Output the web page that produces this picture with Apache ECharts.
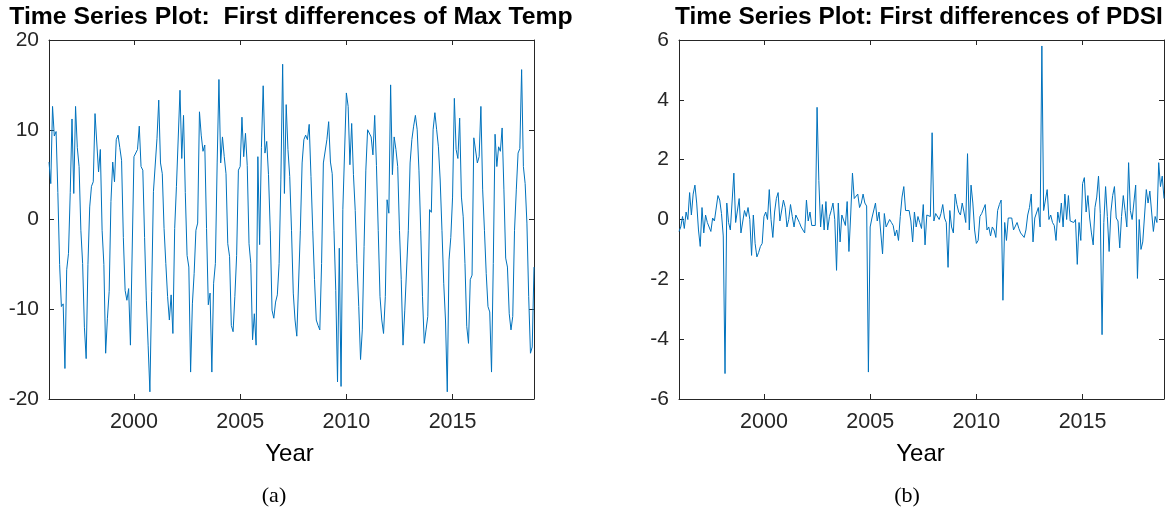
<!DOCTYPE html>
<html><head><meta charset="utf-8">
<script src="https://cdn.jsdelivr.net/npm/echarts@6/dist/echarts.min.js"></script>
<style>html,body{margin:0;padding:0;background:#fff}#c{width:1167px;height:510px}</style>
</head><body><div id="c"></div>
<script>
// ---------- data ----------
const startYear = 1996;              // first month of the differenced series (monthly steps)
const xTickYears = [2000, 2005, 2010, 2015];
const yTicksTemp = [-20, -10, 0, 10, 20];
const yTicksPdsi = [-6, -4, -2, 0, 2, 4, 6];
const titleTemp = 'Time Series Plot:  First differences of Max Temp';
const titlePdsi = 'Time Series Plot: First differences of PDSI';
const xAxisName = 'Year';
const captions = ['(a)', '(b)'];

const maxTempDiff = [
  6.4, 4.0, 12.6, 9.3, 9.8, 3, -5, -9.7, -9.4, -16.6, -5.6, -3.8,
  3, 11.2, 2.9, 12.6, 8, 5.9, -1.2, -4.9, -12, -15.5, -5, 1.4,
  3.7, 4.2, 11.8, 11.8, 5.3, 7.8, -1.2, -5, -14.9, -11, -8, 2,
  6.4, 4.2, 8.9, 9.4, 8, 6.6, -2, -7.9, -9, -7.7, -14, -3.4,
  7, 7.2, 7.8, 10.4, 5.9, 5.5, -2, -9, -14, -19.2, -8, 3.1,
  3.3, 9, 13.3, 6.3, 5.1, -1, -4.9, -8.6, -11.2, -8.4, -12.7, -1,
  3.7, 3.5, 14.4, 6.8, 11.6, 3, -4, -5.3, -17, -9.4, -6, -1.2,
  -0.4, 12, 9.4, 7.6, 8.3, -1, -9.5, -8.2, -17, -7.1, -4.9, 6.3,
  15.6, 6.3, 9.2, 7, 5.1, -2.7, -4.1, -11.8, -12.5, -8.6, -4, 5.5,
  5.9, 11.4, 7, 9.6, 6, -2.7, -4.9, -13.4, -10.5, -14, 7, -2.8,
  8, 14.9, 7.4, 8.7, 5, -1.2, -10.1, -11, -9.2, -8.4, -4.9, 4.5,
  17.3, 2.9, 12.8, 7.8, 4.8, -1.2, -8.2, -11.2, -13, -12.8, -1.2, 6.3,
  8.9, 9.4, 8.9, 10.6, 4.8, -1.2, -6.7, -11.2, -11.8, -12.3, -4.9, 6.3,
  6.4, 8.9, 10.9, 6.4, 5.1, -1.2, -7.9, -18.1, -3.2, -18.6, 1.1, 1.2,
  14.1, 12.6, 6.1, 10.7, 5, 1, -4.9, -9.7, -15.6, -12.3, -3, 5.5,
  10, 10, 9.2, 7.2, 11.6, 6, -1.2, -8.6, -11.2, -12.7, -8.6, 2.2,
  0.7, 15, 5, 9.2, 7.8, 5.9, -1.2, -6.7, -14, -10.1, -10.1, -1.2,
  6.3, 8.9, 10.4, 11.6, 10, 5.5, -1.2, -8.6, -13.8, -12.3, -10.8, 1.1,
  0.8, 10, 11.9, 10, 8.1, 4.4, -1.2, -7.1, -11.2, -19.2, -4.5, -2,
  2.5, 13.5, 7.8, 6.8, 11.3, 2.5, 0.3, -4.9, -11.9, -13.8, -6.7, -6.2,
  9.1, 8.9, 6.3, 7, 12.6, 3.3, -1.2, -6, -9.7, -10.3, -17, -4.9,
  9.5, 5.9, 8.1, 7.6, 10.2, 3.3, -4.3, -5.3, -10.5, -12.3, -10.8, -1.2,
  3.3, 7.4, 7.9, 16.7, 5.9, 4, -0.4, -8.6, -14.9, -14.2, -5.3
];

const pdsiDiff = [
  -0.4, -0.25, 0.1, -0.3, 0.25, 0, 0.9, 0.15, 0.85, 1.15, 0.55, -0.35,
  -0.9, 0.4, -0.45, 0.15, -0.1, -0.1, -0.4, 0.05, -0.05, -0.05, 0.8, 0.65,
  0.2, -0.55, -5.15, 0.55, -0.1, -0.35, -0.4, 1.55, -0.1, -0.1, 0.7, -0.45,
  -0.5, 0.3, 0.1, 0.4, 0, -1.2, 0.15, -0.8, -1.25, -1.1, -0.9, -0.8,
  0.1, 0.25, 0, 1.0, 0, -0.6, 0.25, 0.7, 0.9, -0.05, -0.1, 0.65,
  0.4, -0.25, 0, 0.5, 0.1, -0.25, 0.15, 0.2, -0.1, -0.25, -0.35, -0.45,
  0.65, -0.05, 0.25, -0.2, -0.2, -0.2, 3.75, 1.3, -0.25, 0.5, -0.35, 0.6,
  -0.35, 0.1, 0.3, 0.55, 0, -1.7, 0.55, -0.75, 0.15, 0.1, -0.2, 0.6,
  -1.07, 0.15, 1.55, 0.7, 0.65, 0.85, 0.4, 0.55, 0.85, 0.55, 0.45, -5.1,
  -0.25, 0.05, 0.05, 0.55, -0.05, 0.25, 0.25, -1.15, 0.2, -0.25, -0.2, 0,
  -0.1, -0.2, -0.55, -0.35, -0.7, 0.1, 0.75, 1.1, 0.3, 0.35, 0.3, -0.05,
  -0.75, 0.25, -0.25, 0.1, -0.1, -0.3, 0.5, -0.85, 0.15, 0.1, 0.1, 2.9,
  -0.05, 0.2, 0.15, 0, 0.2, 0.5, 0.05, -0.1, -1.6, 0.3, -0.25, -0.45,
  0.85, 0.5, 0.25, 0.15, 0.55, 0.25, -0.1, 2.2, -0.35, 1.15, 0.55, -0.35,
  -0.8, -0.7, 0.1, 0.2, 0.2, 0.5, -0.35, -0.25, -0.55, -0.25, -0.35, -0.6,
  0.3, 0.5, 0.65, -2.7, -0.1, -0.7, 0.05, 0.1, 0.05, -0.35, -0.4, -0.1,
  -0.3, -0.45, -0.5, -0.6, -0.35, 0.15, 0.4, 0.85, -0.75, 0.05, 0, 0.4,
  -0.25, 5.8, 0.3, 0.25, 1.0, 0, 0.15, -0.1, -0.2, -0.7, 0.25, -0.1,
  0.55, -0.25, 0.85, 0, 0.8, -0.05, -0.1, -0.1, 0, -1.5, -0.1, -0.7,
  1.2, 1.4, 0.25, 0.8, 0.05, -0.45, -0.85, 0.4, 0.75, 1.45, 0.2, -3.85,
  -0.1, 1.1, 0.1, -1.07, 0.25, 0.8, 1.1, 0.05, -0.05, -0.95, 0.1, 0.8,
  0.3, -0.25, 1.9, 0.3, 0, 0, 1.15, -1.97, 0, -1.0, -0.75, -0.7,
  1.0, 0.55, 0.95, 0.25, -0.4, 0.1, -0.1, 1.9, 1.1, 1.45, 0.7
];

// ---------- chart ----------
const FONT = '"Liberation Sans", Arial, Helvetica, sans-serif';
const AX = '#262626';
const LINE = '#0072BD';
const toXY = arr => arr.map((v, i) => [startYear + i / 12, v]);
const xMin = startYear;
const xMax = startYear + (maxTempDiff.length - 1) / 12;

const grids = [
  { left: 49, top: 40, width: 485, height: 359, containLabel: false, outerBoundsMode: 'none' },
  { left: 679, top: 40, width: 485, height: 359, containLabel: false, outerBoundsMode: 'none' }
];

function xAxes(g) {
  const base = {
    gridIndex: g, type: 'value', min: xMin, max: xMax,
    axisLine: { show: true, onZero: false, lineStyle: { color: AX, width: 1 } },
    axisTick: { show: true, inside: true, length: 5, customValues: xTickYears, lineStyle: { color: AX, width: 1 } },
    splitLine: { show: false }
  };
  return [
    Object.assign({}, base, { position: 'bottom',
      axisLabel: { show: true, customValues: xTickYears, formatter: v => String(v),
        fontSize: 21.5, color: AX, fontFamily: FONT, margin: 12 } }),
    Object.assign({}, base, { position: 'top', axisLabel: { show: false } })
  ];
}
function yAxes(g, ticks) {
  const base = {
    gridIndex: g, type: 'value', min: ticks[0], max: ticks[ticks.length - 1],
    axisLine: { show: true, onZero: false, lineStyle: { color: AX, width: 1 } },
    axisTick: { show: true, inside: true, length: 5, customValues: ticks, lineStyle: { color: AX, width: 1 } },
    splitLine: { show: false }
  };
  return [
    Object.assign({}, base, { position: 'left',
      axisLabel: { show: true, customValues: ticks, formatter: v => String(v),
        fontSize: 21, color: AX, fontFamily: FONT, margin: 10 } }),
    Object.assign({}, base, { position: 'right', axisLabel: { show: false } })
  ];
}

const chart = echarts.init(document.getElementById('c'), null, { renderer: 'canvas' });
const txt = (x, y, text, font, sx) => ({
  type: 'text', x: x, y: y, scaleX: sx || 1, silent: true,
  style: { text: text, font: font, fill: '#000', align: 'center', verticalAlign: 'middle' }
});
chart.setOption({
  animation: false,
  backgroundColor: '#fff',
  grid: grids,
  xAxis: [...xAxes(0), ...xAxes(1)],
  yAxis: [...yAxes(0, yTicksTemp), ...yAxes(1, yTicksPdsi)],
  series: [
    { type: 'line', xAxisIndex: 0, yAxisIndex: 0, data: toXY(maxTempDiff), showSymbol: false, symbol: 'none',
      lineStyle: { color: LINE, width: 1 }, itemStyle: { color: LINE } },
    { type: 'line', xAxisIndex: 2, yAxisIndex: 2, data: toXY(pdsiDiff), showSymbol: false, symbol: 'none',
      lineStyle: { color: LINE, width: 1 }, itemStyle: { color: LINE } }
  ],
  graphic: [
    txt(291, 18, titleTemp, 'bold 23px ' + FONT, 1.077),
    txt(919, 18, titlePdsi, 'bold 23px ' + FONT, 1.061),
    txt(289.5, 454, xAxisName, '24px ' + FONT),
    txt(920.5, 454, xAxisName, '24px ' + FONT),
    txt(274, 496, captions[0], '22px "Liberation Serif", "DejaVu Serif", serif'),
    txt(907, 496, captions[1], '22px "Liberation Serif", "DejaVu Serif", serif')
  ]
});
</script>
</body></html>
